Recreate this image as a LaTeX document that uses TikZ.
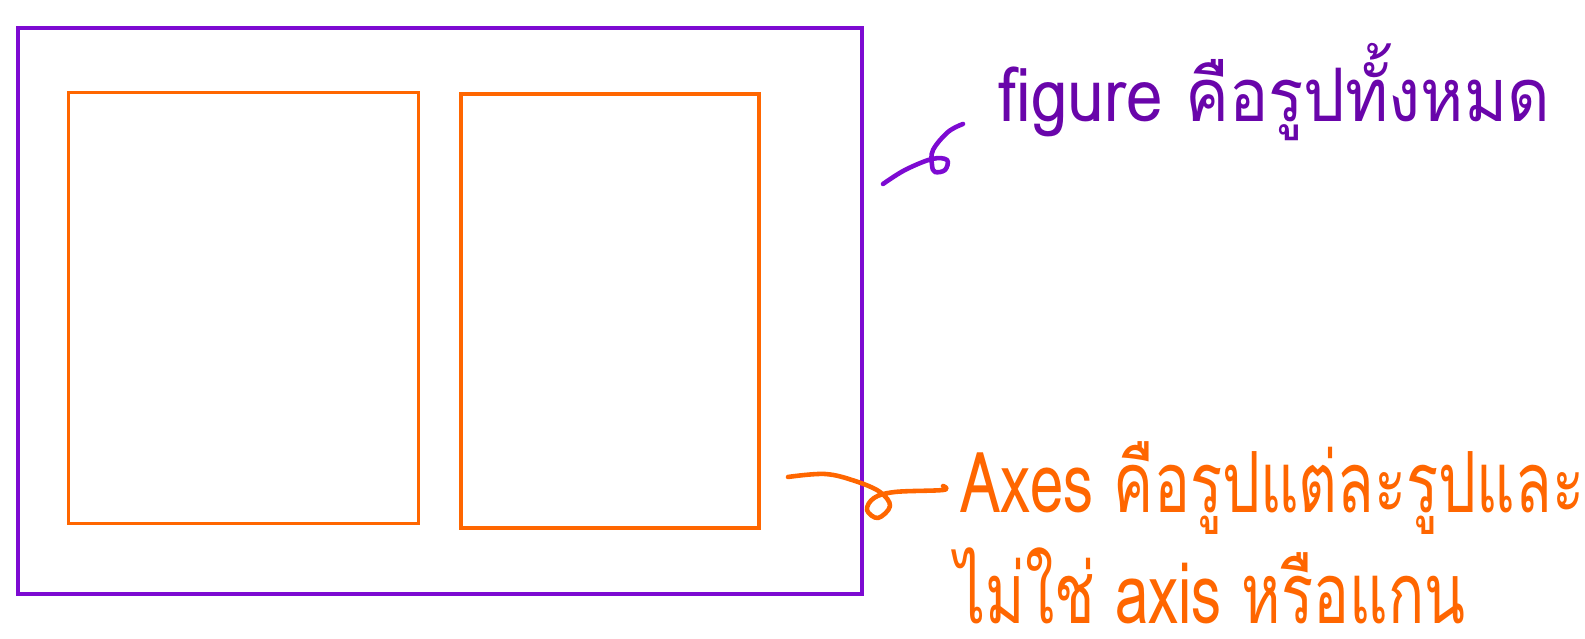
\documentclass[tikz,border=0pt]{standalone}
\usepackage{fontspec}
\newfontfamily\figfont[Script=Thai,FakeStretch=0.89]{Loma}
\newfontfamily\axfont[Script=Thai,FakeStretch=0.71]{Loma}
\usetikzlibrary{positioning}
\definecolor{cfig}{RGB}{125,10,210}
\definecolor{cfigtxt}{RGB}{105,5,170}
\definecolor{cax}{RGB}{255,102,0}
\tikzset{
  figbox/.style={rectangle,draw=cfig,line width=1.05pt,inner sep=0pt},
  axbox/.style={rectangle,draw=cax,line width=0.95pt,inner sep=0pt},
  note/.style={anchor=base west,inner sep=0pt},
  squiggle/.style={line width=1.3pt,line cap=round,line join=round}
}
\begin{document}
\begin{tikzpicture}
  \clip (0,0) rectangle (15.85,6.39);
  \fill[white] (0,0) rectangle (15.85,6.39);
  % the whole figure and its two axes
  \node[figbox,minimum width=8.44cm,minimum height=5.66cm] (fig) at (4.402,3.277) {};
  \node[axbox,minimum width=3.50cm,minimum height=4.31cm] (axl) at (2.436,3.307) {};
  \node[axbox,minimum width=2.98cm,minimum height=4.34cm] (axr) at (6.10,3.28) {};
  % notes
  \node[note,text=cfigtxt,font=\figfont\fontsize{21}{25}\selectfont] (figlab) at (9.98,5.17) {figure คือรูปทั้งหมด};
  \node[note,text=cax,font=\axfont\fontsize{24}{29}\selectfont] (axlab) at (9.60,1.26) {Axes คือรูปแต่ละรูปและ};
  \node[note,text=cax,font=\axfont\fontsize{24}{29}\selectfont] (axlab2) at (9.55,0.15) {ไม่ใช่ axis หรือแกน};
  % hand drawn pointers
  \coordinate (pf0) at (8.83,4.55);
  \coordinate (pf1) at (9.63,5.15);
  \coordinate (pa0) at (7.88,1.62);
  \coordinate (pa1) at (9.43,1.53);
  \draw[cfig,squiggle] plot[smooth,tension=0.6] coordinates {(pf0) (9.05,4.69) (9.32,4.80)
    (9.47,4.79) (9.45,4.69) (9.35,4.67) (9.32,4.74) (9.33,4.89) (9.48,5.07) (pf1)};
  \draw[cax,squiggle] plot[smooth,tension=0.6] coordinates {(pa0) (8.25,1.65) (8.55,1.58)
    (8.80,1.47) (8.90,1.33) (8.78,1.21) (8.67,1.29) (8.74,1.41) (8.95,1.47) (9.43,1.49) (pa1)};
\end{tikzpicture}
\end{document}
